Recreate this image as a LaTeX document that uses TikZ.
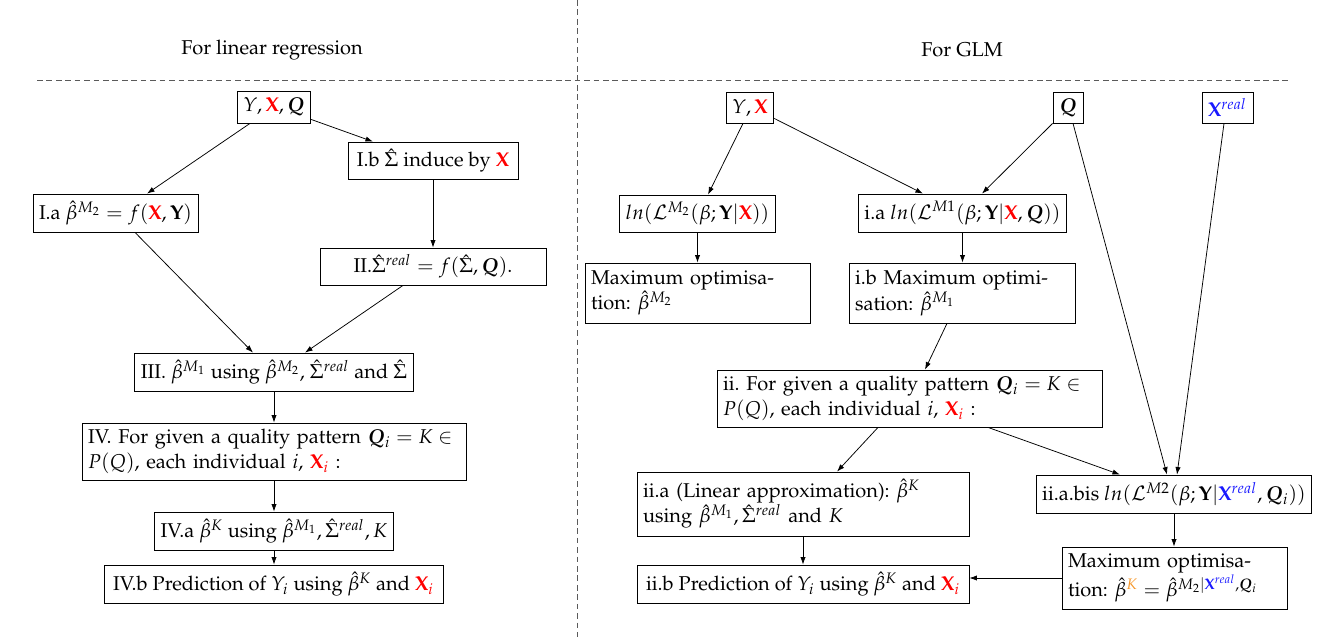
\documentclass[tikz,border=0pt]{standalone}
\usepackage[T1]{fontenc}
\usepackage{mathpazo}
\usepackage{amsmath}
\usepackage{bm}
\usetikzlibrary{arrows.meta,calc}
\definecolor{xred}{RGB}{255,0,0}
\definecolor{xblue}{RGB}{25,25,255}
\definecolor{xorange}{RGB}{245,150,40}
\definecolor{dashgray}{RGB}{90,90,90}
\newcommand{\upx}{0.53pt}
\newcommand{\RX}{\textcolor{xred}{\mathbf{X}}}
\newcommand{\RXi}{\textcolor{xred}{\mathbf{X}_i}}
\newcommand{\BXr}{\textcolor{xblue}{\mathbf{X}^{real}}}
\newcommand{\bQ}{\bm{Q}}
\frenchspacing
\begin{document}
\begin{tikzpicture}[x=\upx,y=-\upx,
  font=\fontsize{10.6}{13.4}\selectfont,
  box/.style={draw,line width=0.42pt,inner xsep=3.2pt,inner ysep=1pt},
  sz/.style 2 args={minimum width=#1*\upx,minimum height=#2*\upx},
  ml/.style={text width=#1,align=left},
  arr/.style={-{Latex[length=4pt,width=2.8pt]},line width=0.4pt},
  sep/.style={dashgray,line width=0.5pt,dash pattern=on 3pt off 2pt},
  title/.style={inner sep=0pt}]
\useasboundingbox (0,0) rectangle (1327,637);
% separators
\coordinate (vtop) at (577,0);
\coordinate (vbot) at (577,637);
\coordinate (hl) at (37,80);
\coordinate (hr) at (1290,80);
\draw[sep] (vtop) -- (vbot);
\draw[sep] (hl) -- (hr);
\node[title] (t1) at (272,50) {For linear regression};
\node[title] (t2) at (962,50) {For GLM};
% left panel
\node[box,sz={70}{32}] (yxq) at (274,107) {$Y,\RX,\bQ$};
\node[box,sz={170}{37}] (ib) at (433,160.5) {I.b $\hat{\Sigma}$ induce by $\RX$};
\node[box,sz={157}{38}] (ia) at (115.5,213) {I.a $\hat{\beta}^{M_2}=f(\RX,\mathbf{Y})$};
\node[box,sz={226}{37}] (ii) at (433,266.5) {II.$\hat{\Sigma}^{real}=f(\hat{\Sigma},\bQ)$.};
\node[box,sz={272}{38}] (iii) at (274,372) {III. $\hat{\beta}^{M_1}$ using $\hat{\beta}^{M_2}$, $\hat{\Sigma}^{real}$ and $\hat{\Sigma}$};
\node[box,sz={384}{57},ml=197.1pt] (iv) at (274,451.5) {IV. For given a quality pattern $\bQ_i=K\in$\\$P(Q)$, each individual $i$, $\RXi$ :};
\node[box,sz={234}{38}] (iva) at (274,531) {IV.a $\hat{\beta}^{K}$ using $\hat{\beta}^{M_1},\hat{\Sigma}^{real},K$};
\node[box,sz={339}{38}] (ivb) at (273.5,584) {IV.b Prediction of $Y_i$ using $\hat{\beta}^{K}$ and $\RXi$};
\draw[arr] ($(yxq.south)+(-24,0)$) -- ($(ia.north)+(31.5,0)$);
\draw[arr] ($(yxq.south east)+(0,-4)$) -- ($(ib.north)+(-60,0)$);
\draw[arr] (ib.south) -- (ib.south |- ii.north);
\draw[arr] ($(ia.south)+(19.5,0)$) -- ($(iii.north)+(-21,0)$);
\draw[arr] ($(ii.south)+(-30,0)$) -- ($(iii.north)+(31,0)$);
\draw[arr] (iii.south) -- (iv.north);
\draw[arr] (iv.south) -- (iva.north);
\draw[arr] (iva.south) -- (iva.south |- ivb.north);
% right panel
\node[box,sz={46}{31}] (yx) at (750,107.5) {$Y,\RX$};
\node[box,sz={30}{31}] (q) at (1068,107.5) {$\bQ$};
\node[box,sz={51}{31}] (xr) at (1227.5,107.5) {$\BXr$};
\node[box,sz={145}{37}] (ln2) at (697.5,213.5) {$ln(\mathcal{L}^{M_2}(\beta;\mathbf{Y}|\RX))$};
\node[box,sz={197}{38}] (ia2) at (962.5,213) {i.a $ln(\mathcal{L}^{M1}(\beta;\mathbf{Y}|\RX,\bQ))$};
\node[box,sz={225}{60},ml=112.85pt] (mo2) at (697.5,293) {Maximum optimisa-\\tion: $\hat{\beta}^{M_2}$};
\node[box,sz={226}{60},ml=113.4pt] (ib2) at (962,293) {i.b Maximum optimi-\\sation: $\hat{\beta}^{M_1}$};
\node[box,sz={385}{57},ml=197.65pt] (iiR) at (909.5,398.5) {ii. For given a quality pattern $\bQ_i=K\in$\\$P(Q)$, each individual $i$, $\RXi$ :};
\node[box,sz={332}{64},ml=169.56pt] (iia) at (803,504) {ii.a (Linear approximation): $\hat{\beta}^{K}$\\using $\hat{\beta}^{M_1},\hat{\Sigma}^{real}$ and $K$};
\node[box,sz={262}{38}] (iabis) at (1174,494) {ii.a.bis $ln(\mathcal{L}^{M2}(\beta;\mathbf{Y}|\BXr,\bQ_i))$};
\node[box,sz={225}{62},ml=112.85pt] (moR) at (1174.5,578) {Maximum optimisa-\\tion: $\hat{\beta}^{\textcolor{xorange}{K}}=\hat{\beta}^{M_2|\BXr,\bQ_i}$};
\node[box,sz={332}{38}] (iib) at (803,584) {ii.b Prediction of $Y_i$ using $\hat{\beta}^{K}$ and $\RXi$};
\draw[arr] ($(yx.south)+(-7,0)$) -- ($(ln2.north)+(10.5,0)$);
\draw[arr] ($(yx.south east)+(0,-5)$) -- ($(ia2.north)+(-39.5,0)$);
\draw[arr] (q.south west) -- ($(ia2.north)+(19.5,0)$);
\draw[arr] ($(q.south)+(5,0)$) -- ($(iabis.north)+(-7,0)$);
\draw[arr] ($(xr.south)+(-3.5,0)$) -- ($(iabis.north)+(3,0)$);
\draw[arr] (ln2.south) -- (ln2.south |- mo2.north);
\draw[arr] (ia2.south) -- (ia2.south |- ib2.north);
\draw[arr] ($(ib2.south)+(-15,0)$) -- ($(iiR.north)+(15.5,0)$);
\draw[arr] ($(iiR.south)+(-31.5,0)$) -- ($(iia.north)+(34,0)$);
\draw[arr] ($(iiR.south)+(78.5,0)$) -- ($(iabis.north)+(-54,0)$);
\draw[arr] (iia.south) -- (iib.north);
\draw[arr] (iabis.south) -- (iabis.south |- moR.north);
\draw[arr] (moR.west) -- (moR.west -| iib.east);
\end{tikzpicture}
\end{document}
